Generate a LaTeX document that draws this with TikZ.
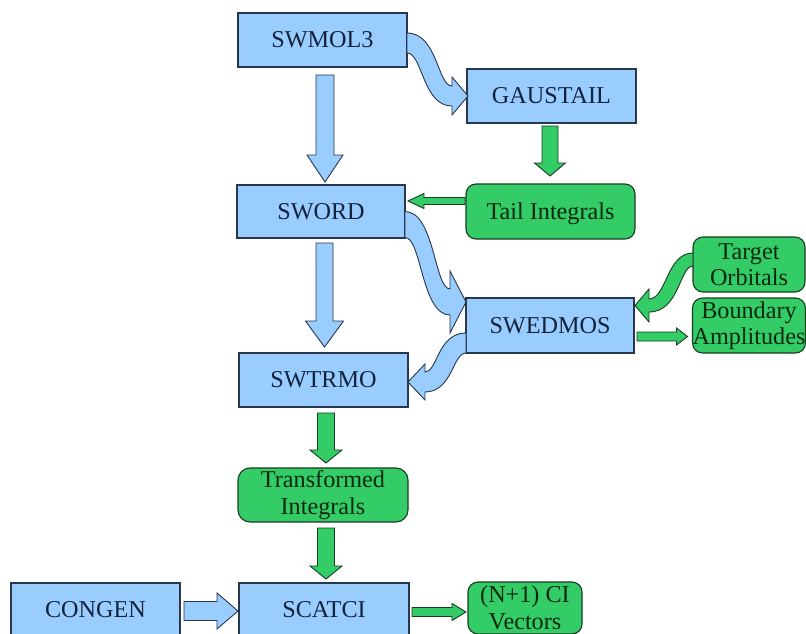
\documentclass[tikz,border=0pt]{standalone}
\usepackage{fontspec}
\setmainfont{Liberation Serif}
\usetikzlibrary{calc}
\definecolor{bluefill}{RGB}{153,204,255}
\definecolor{greenfill}{RGB}{51,204,102}
\definecolor{blueedge}{RGB}{40,55,75}
\definecolor{greenedge}{RGB}{25,60,35}
\definecolor{bluetext}{RGB}{20,35,60}
\definecolor{greentext}{RGB}{10,40,15}
% #1 style, #2 start coordinate, #3 tip coordinate, #4 shaft half width, #5 head half width, #6 head length
\newcommand\blockarr[6]{%
  \path ($(#3)!#6pt!(#2)$) coordinate (babase);
  \filldraw[#1] ($(#2)!#4pt!90:(#3)$) -- ($(babase)!#4pt!90:(#3)$) -- ($(babase)!#5pt!90:(#3)$) -- (#3)
    -- ($(babase)!#5pt!-90:(#3)$) -- ($(babase)!#4pt!-90:(#3)$) -- ($(#2)!#4pt!-90:(#3)$) -- cycle;
}
\begin{document}
\begin{tikzpicture}[x=1pt,y=-1pt,
  base/.style={inner sep=0pt, outer sep=0pt, line width=1.1pt,
    font=\fontsize{24.2}{26.5}\selectfont},
  bbox/.style={base, draw=blueedge, fill=bluefill, text=bluetext},
  gbox/.style={base, draw=greenedge, fill=greenfill, text=greentext, rounded corners=10pt},
  barr/.style={draw=blueedge, fill=bluefill, line width=0.9pt},
  garr/.style={draw=greenedge, fill=greenfill, line width=0.9pt}]
\useasboundingbox (0,0) rectangle (806,634);
\clip (0,0) rectangle (806,634);

% nodes
\node[bbox, minimum width=169pt, minimum height=54pt] (swmol3) at (322.5,40) {SWMOL3};
\node[bbox, minimum width=169pt, minimum height=54pt] (gaustail) at (551.5,96) {GAUSTAIL};
\node[bbox, minimum width=168pt, minimum height=53pt] (sword) at (321,211.5) {SWORD};
\node[gbox, minimum width=169pt, minimum height=55pt, text depth=0pt] (tail) at (550.5,211.5) {Tail Integrals};
\node[bbox, minimum width=168pt, minimum height=55pt] (swedmos) at (550,325.5) {SWEDMOS};
\node[gbox, minimum width=112pt, minimum height=55pt, align=center] (target) at (749,264.5) {Target\\Orbitals};
\node[gbox, minimum width=112pt, minimum height=55pt, align=center] (boundary) at (749,325.5) {Boundary\\Amplitudes};
\node[bbox, minimum width=169pt, minimum height=54pt] (swtrmo) at (323.5,380) {SWTRMO};
\node[gbox, minimum width=170pt, minimum height=54pt, align=center, rounded corners=12pt] (trans) at (323,495) {Transformed\\Integrals};
\node[bbox, minimum width=169pt, minimum height=54pt] (congen) at (95.5,610) {CONGEN};
\node[bbox, minimum width=170pt, minimum height=54pt] (scatci) at (324,610) {SCATCI};
\node[gbox, minimum width=114pt, minimum height=52pt, align=center] (ci) at (525,608) {(N+1) CI\\Vectors};

% straight block arrows
\coordinate (a1s) at ($(swmol3.south)+(2.5,8)$);
\coordinate (a1t) at ($(sword.north)+(4,-3)$);
\blockarr{barr}{a1s}{a1t}{9}{18}{27}

\coordinate (a2s) at ($(sword.south)+(3.5,5)$);
\coordinate (a2t) at ($(swtrmo.north)+(1,-6)$);
\blockarr{barr}{a2s}{a2t}{8.5}{19}{26}

\coordinate (a3s) at ($(gaustail.south)+(-1.5,3)$);
\coordinate (a3t) at ($(tail.north)+(-0.5,-8)$);
\blockarr{garr}{a3s}{a3t}{8}{15.5}{13}

\coordinate (a4s) at ($(tail.west)+(-1,-10.5)$);
\coordinate (a4t) at ($(sword.east)+(3,-10.5)$);
\blockarr{garr}{a4s}{a4t}{3.5}{7.5}{16}

\coordinate (a5s) at ($(swedmos.east)+(3,11)$);
\coordinate (a5t) at ($(boundary.west)+(-5,11)$);
\blockarr{garr}{a5s}{a5t}{4.5}{8.5}{11}

\coordinate (a6s) at ($(swtrmo.south)+(2.5,6)$);
\coordinate (a6t) at ($(trans.north)+(3,-5)$);
\blockarr{garr}{a6s}{a6t}{8.5}{16}{13}

\coordinate (a7s) at ($(trans.south)+(3,6)$);
\coordinate (a7t) at ($(scatci.north)+(2,-4)$);
\blockarr{garr}{a7s}{a7t}{8.5}{16}{13}

\coordinate (a8s) at ($(congen.east)+(4,1)$);
\coordinate (a8t) at ($(scatci.west)+(-1,1)$);
\blockarr{barr}{a8s}{a8t}{9.5}{18}{21}

\coordinate (a9s) at ($(scatci.east)+(3,2)$);
\coordinate (a9t) at ($(ci.west)+(-2,4)$);
\blockarr{garr}{a9s}{a9t}{4.5}{8.5}{14}

% curved block arrows
\begin{scope}[shift={(swmol3.east)}]
  \filldraw[barr] (0,-7) .. controls (30.5,-7) and (30.5,46) .. (45,46) -- (45,37) -- (61,56)
    -- (45,75) -- (45,66) .. controls (15.5,66) and (15.5,13) .. (0,13) -- cycle;
\end{scope}
\begin{scope}[shift={(sword.east)}]
  \filldraw[barr] (0,0) .. controls (29.5,0) and (29.5,77.5) .. (45,77.5) -- (45,59.5) -- (61,90.5)
    -- (45,121.5) -- (45,103.5) .. controls (16.5,103.5) and (16.5,26) .. (0,26) -- cycle;
\end{scope}
\begin{scope}[shift={(swedmos.west)}]
  \filldraw[barr] (0,7.5) .. controls (-28.5,7.5) and (-28.5,46.5) .. (-41,46.5) -- (-41,38.5) -- (-58,56.5)
    -- (-41,74.5) -- (-41,66.5) .. controls (-13.5,66.5) and (-13.5,27.5) .. (0,27.5) -- cycle;
\end{scope}
\begin{scope}[shift={(target.west)}]
  \filldraw[garr] (0,-11.5) .. controls (-26.5,-11.5) and (-26.5,34.5) .. (-44,34.5) -- (-44,24.5) -- (-58,41)
    -- (-44,57.5) -- (-44,47.5) .. controls (-13.5,47.5) and (-13.5,1.5) .. (0,1.5) -- cycle;
\end{scope}
\end{tikzpicture}
\end{document}
